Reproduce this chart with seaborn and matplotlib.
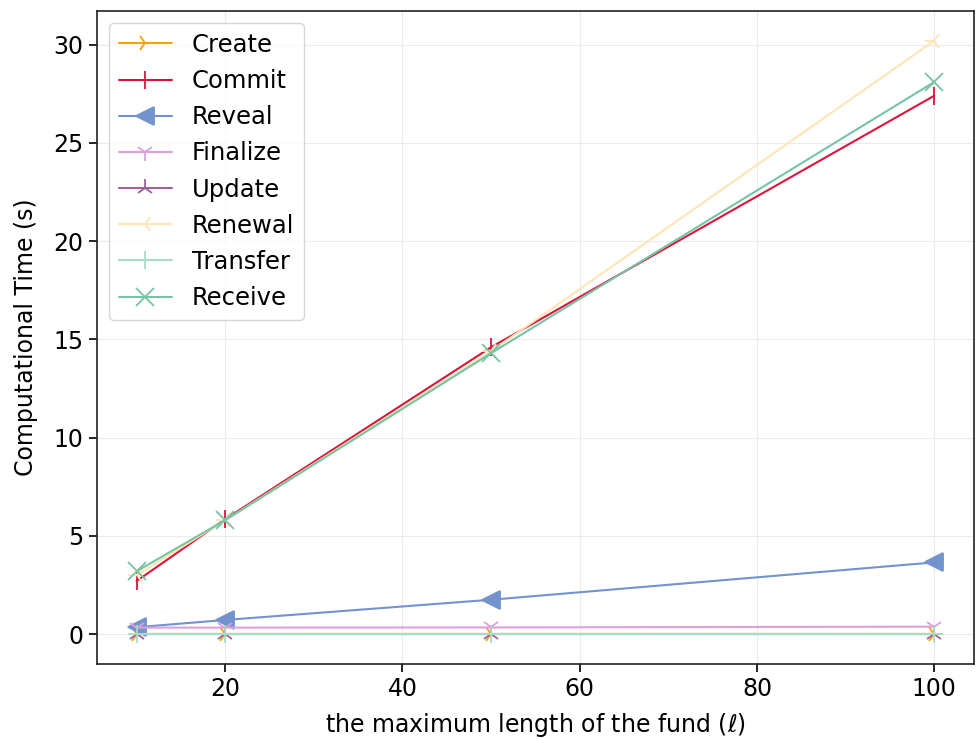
import matplotlib
matplotlib.use("Agg")
import matplotlib.pyplot as plt
import seaborn as sns
import pandas as pd

sns.set_style("whitegrid")
plt.rcParams['font.family'] = ['DejaVu Sans']
plt.rcParams['text.color'] = 'black'
plt.rcParams['axes.labelcolor'] = 'black'
plt.rcParams['xtick.color'] = 'black'
plt.rcParams['ytick.color'] = 'black'

lengths = [10, 20, 50, 100]
create = [0.01, 0.01, 0.01, 0.01]
commit = [2.7, 5.85, 14.6, 27.4]
reveal = [0.35, 0.72, 1.75, 3.65]
finalize = [0.33, 0.33, 0.34, 0.38]
update = [0.0, 0.0, 0.0, 0.0]
renewal = [3.0, 5.8, 14.4, 30.2]
transfer = [0.0, 0.0, 0.0, 0.0]
receive = [3.2, 5.8, 14.3, 28.1]

names = ["Create", "Commit", "Reveal", "Finalize", "Update", "Renewal", "Transfer", "Receive"]
series = [create, commit, reveal, finalize, update, renewal, transfer, receive]
colors = ["#f5a300", "#dc143c", "#7293cb", "#dda0dd", "#a0609e", "#ffe4b5", "#a8dcc5", "#76c4a4"]
markers = ["4", "|", "<", "1", "2", "3", "+", "x"]

rows = []
for n, s in zip(names, series):
    for x, y in zip(lengths, s):
        rows.append({"length": x, "time": y, "op": n})
df = pd.DataFrame(rows)

fig = plt.figure(figsize=(9.77, 7.4), dpi=100)
ax = fig.add_axes([0.099, 0.103, 0.898, 0.882])

for n, c, m in zip(names, colors, markers):
    sub = df[df.op == n]
    sns.lineplot(data=sub, x="length", y="time", ax=ax, color=c, marker=m,
                 markersize=13, markeredgewidth=1.3, linewidth=1.5, label=n,
                 markeredgecolor=c, markerfacecolor=c)

ax.set_xlabel("the maximum length of the fund ($\\ell$)", fontsize=17, labelpad=7)
ax.set_ylabel("Computational Time (s)", fontsize=17, labelpad=11)
ax.tick_params(axis="both", labelsize=17, length=6, width=1.2, color="black",
               labelcolor="black", left=True, bottom=True)
ax.set_xticks([20, 40, 60, 80, 100])
ax.set_yticks([0, 5, 10, 15, 20, 25, 30])
ax.grid(True, color="#ebebeb", linewidth=0.8)
for sp in ax.spines.values():
    sp.set_color("#222222")
    sp.set_linewidth(1.2)

leg = ax.legend(loc="upper left", fontsize=17.5, frameon=True, handlelength=2.2,
                borderpad=0.4, labelspacing=0.5)
leg.get_frame().set_edgecolor("#cccccc")
for t in leg.get_texts():
    t.set_color("black")

fig.savefig("out.png", dpi=100)
